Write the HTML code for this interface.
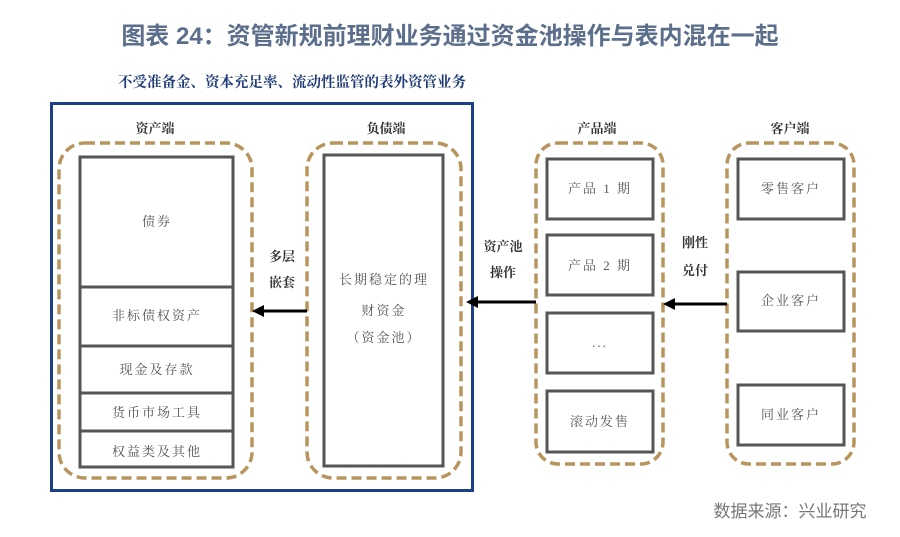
<!DOCTYPE html>
<html><head><meta charset="utf-8"><style>
body{margin:0;background:#fff;width:900px;height:532px;overflow:hidden}
svg text{font-family:"Liberation Serif","Noto Serif CJK SC",serif}
</style></head><body>
<svg width="900" height="532" viewBox="0 0 900 532" xmlns="http://www.w3.org/2000/svg">
<text x="450" y="44" text-anchor="middle" font-size="24" font-weight="bold" fill="#5b6e8b" style="font-family:'Liberation Sans','Noto Sans CJK SC',sans-serif">图表 24：资管新规前理财业务通过资金池操作与表内混在一起</text>
<text x="292" y="87" text-anchor="middle" font-size="14.5" font-weight="bold" fill="#1f3b78">不受准备金、资本充足率、流动性监管的表外资管业务</text>
<rect x="51.5" y="103.5" width="421" height="387" fill="none" stroke="#1c3f85" stroke-width="3"/>
<g fill="none" stroke="#b9955e" stroke-width="3.5" stroke-dasharray="10,5">
<rect x="59" y="143" width="193" height="335" rx="26"/>
<rect x="307" y="143" width="154" height="335" rx="26"/>
<rect x="536" y="143" width="127" height="321" rx="22"/>
<rect x="727" y="143" width="127" height="321" rx="22"/>
</g>
<g font-size="13" font-weight="bold" fill="#333" text-anchor="middle">
<text x="155" y="133">资产端</text><text x="386" y="133">负债端</text>
<text x="597" y="133">产品端</text><text x="790" y="133">客户端</text>
<text x="282" y="261">多层</text><text x="282" y="287">嵌套</text>
<text x="503" y="251">资产池</text><text x="503" y="277">操作</text>
<text x="695" y="247">刚性</text><text x="695" y="275">兑付</text>
</g>
<g fill="#fff" stroke="#555" stroke-width="3">
<rect x="80" y="157" width="153" height="310"/>
<line x1="80" y1="287" x2="233" y2="287"/><line x1="80" y1="346" x2="233" y2="346"/>
<line x1="80" y1="393" x2="233" y2="393"/><line x1="80" y1="431" x2="233" y2="431"/>
<rect x="324" y="155" width="119" height="311"/>
<rect x="547" y="159" width="106" height="60"/><rect x="547" y="235" width="106" height="60"/>
<rect x="547" y="313" width="106" height="60"/><rect x="547" y="391" width="106" height="61"/>
<rect x="738" y="159" width="106" height="60"/><rect x="738" y="272" width="106" height="59"/>
<rect x="738" y="385" width="106" height="60"/>
</g>
<g font-size="13" fill="#555" text-anchor="middle" letter-spacing="2">
<text x="157" y="226">债券</text><text x="157" y="320">非标债权资产</text>
<text x="157" y="374">现金及存款</text><text x="157" y="417">货币市场工具</text>
<text x="157" y="456">权益类及其他</text>
<text x="384" y="284">长期稳定的理</text><text x="384" y="315">财资金</text><text x="384" y="342">（资金池）</text>
<text x="600" y="193">产品 1 期</text><text x="600" y="270">产品 2 期</text>
<text x="600" y="347">...</text><text x="600" y="426">滚动发售</text>
<text x="791" y="193">零售客户</text><text x="791" y="305">企业客户</text><text x="791" y="419">同业客户</text>
</g>
<g stroke="#000" stroke-width="3">
<line x1="307" y1="311" x2="262" y2="311"/>
<line x1="536" y1="302" x2="476" y2="302"/>
<line x1="727" y1="304" x2="673" y2="304"/>
</g>
<g fill="#000">
<polygon points="252,311 264,305 264,317"/>
<polygon points="466,302 478,296 478,308"/>
<polygon points="663,304 675,298 675,310"/>
</g>
<text x="790" y="517" text-anchor="middle" font-size="17" fill="#777" style="font-family:'Liberation Sans','Noto Sans CJK SC',sans-serif">数据来源：兴业研究</text>
</svg>
</body></html>
